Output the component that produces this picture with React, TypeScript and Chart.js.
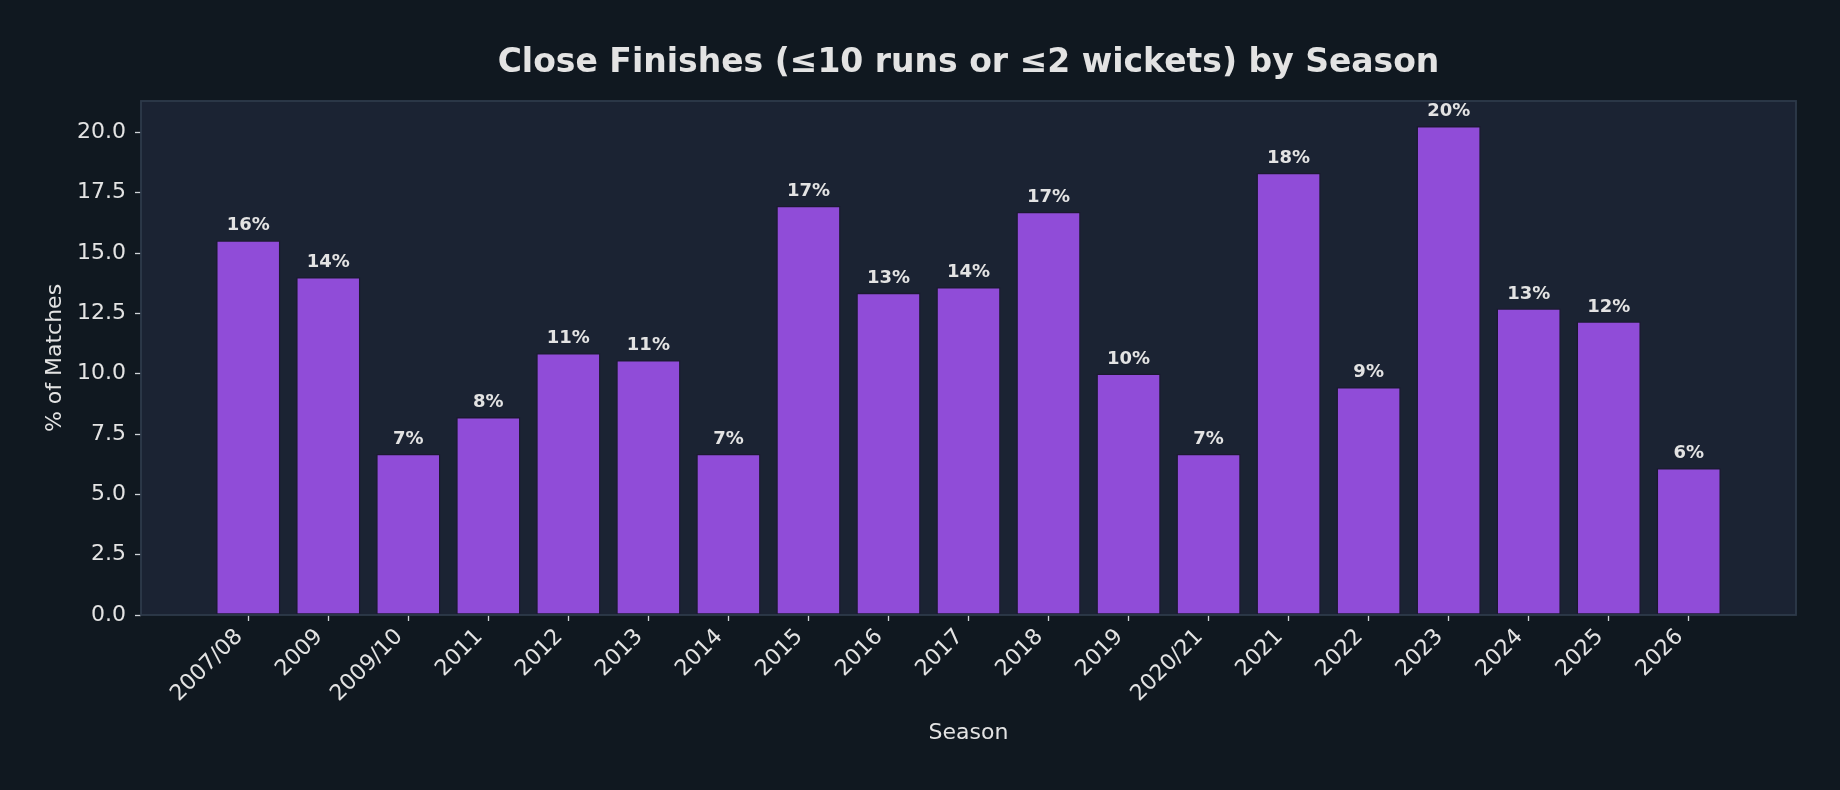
import React, { useEffect, useRef } from 'react';
import { Chart, registerables } from 'chart.js';

Chart.register(...registerables);

const seasons = ['2007/08', '2009', '2009/10', '2011', '2012', '2013', '2014', '2015', '2016', '2017', '2018', '2019', '2020/21', '2021', '2022', '2023', '2024', '2025', '2026'];
const closePct = [15.52, 14.0, 6.67, 8.2, 10.85, 10.56, 6.67, 16.95, 13.35, 13.58, 16.7, 10.0, 6.67, 18.32, 9.44, 20.26, 12.7, 12.16, 6.08];
const yTickValues = [0, 2.5, 5, 7.5, 10, 12.5, 15, 17.5, 20];

const TITLE = 'Close Finishes (≤10 runs or ≤2 wickets) by Season';
const FONT = "'DejaVu Sans', sans-serif";
const TEXT = '#e3e3e3';
const FIG_BG = '#101820';
const AX_BG = '#1b2333';
const SPINE = '#2e3a4a';
const BAR = '#904cd8';
const BAR_EDGE = '#1c1830';

export default function App() {
  const ref = useRef<HTMLCanvasElement | null>(null);

  useEffect(() => {
    if (!ref.current) return;

    const bgPlugin = {
      id: 'bgPlugin',
      beforeDraw(chart: any) {
        const { ctx, chartArea: a, width, height } = chart;
        ctx.save();
        ctx.fillStyle = FIG_BG;
        ctx.fillRect(0, 0, width, height);
        ctx.fillStyle = AX_BG;
        ctx.fillRect(a.left, a.top, a.right - a.left, a.bottom - a.top);
        ctx.restore();
      },
      afterDatasetsDraw(chart: any) {
        const { ctx, chartArea: a } = chart;
        ctx.save();
        ctx.strokeStyle = SPINE;
        ctx.lineWidth = 1.8;
        ctx.strokeRect(a.left, a.top, a.right - a.left, a.bottom - a.top);
        const meta = chart.getDatasetMeta(0);
        ctx.fillStyle = TEXT;
        ctx.font = `bold 18px ${FONT}`;
        ctx.textAlign = 'center';
        ctx.textBaseline = 'alphabetic';
        meta.data.forEach((el: any, i: number) => {
          const v = closePct[i];
          ctx.fillText(`${Math.round(v)}%`, el.x, el.y - 10);
        });
        ctx.font = `bold 33px ${FONT}`;
        ctx.fillText(TITLE, (a.left + a.right) / 2, 72);
        ctx.restore();
      },
    };

    const chart = new Chart(ref.current, {
      type: 'bar',
      data: {
        datasets: [
          {
            data: closePct.map((v, i) => ({ x: i, y: v })),
            backgroundColor: BAR,
            borderColor: BAR_EDGE,
            borderWidth: 1.3,
            borderSkipped: false,
            barPercentage: 0.8,
            categoryPercentage: 1.0,
          },
        ],
      },
      options: {
        animation: false,
        responsive: true,
        maintainAspectRatio: false,
        layout: { padding: { left: 0, top: 101, right: 44, bottom: 0 } },
        plugins: {
          legend: { display: false },
          title: { display: false },
          tooltip: { enabled: false },
        },
        scales: {
          x: {
            type: 'linear',
            offset: false,
            min: -1.34,
            max: 19.34,
            afterBuildTicks(scale: any) {
              scale.ticks = seasons.map((_, i) => ({ value: i }));
            },
            afterFit(scale: any) {
              scale.height = 175;
            },
            border: { display: false },
            grid: {
              offset: false,
              drawOnChartArea: false,
              drawTicks: true,
              tickLength: 6,
              tickColor: '#cfd3d8',
              tickWidth: 1.3,
            },
            ticks: {
              autoSkip: false,
              minRotation: 45,
              maxRotation: 45,
              padding: 3,
              labelOffset: -9,
              color: TEXT,
              font: { family: FONT, size: 22 },
              callback: (v: any) => seasons[Math.round(Number(v))] ?? '',
            },
            title: {
              display: true,
              text: 'Season',
              color: TEXT,
              font: { family: FONT, size: 22 },
              padding: { top: 0, bottom: 44 },
            },
          },
          y: {
            type: 'linear',
            min: 0,
            max: 21.3,
            afterBuildTicks(scale: any) {
              scale.ticks = yTickValues.map((v) => ({ value: v }));
            },
            afterFit(scale: any) {
              scale.width = 141;
            },
            border: { display: false },
            grid: {
              drawOnChartArea: false,
              drawTicks: true,
              tickLength: 6,
              tickColor: '#cfd3d8',
              tickWidth: 1.3,
            },
            ticks: {
              padding: 9,
              color: TEXT,
              font: { family: FONT, size: 22 },
              callback: (v: any) => Number(v).toFixed(1),
            },
            title: {
              display: true,
              text: '% of Matches',
              color: TEXT,
              font: { family: FONT, size: 22 },
              padding: { top: 42, bottom: 0 },
            },
          },
        },
      },
      plugins: [bgPlugin],
    });

    return () => chart.destroy();
  }, []);

  return (
    <div style={{ position: 'fixed', left: 0, top: 0, width: 1840, height: 790, background: FIG_BG }}>
      <canvas ref={ref} />
    </div>
  );
}
